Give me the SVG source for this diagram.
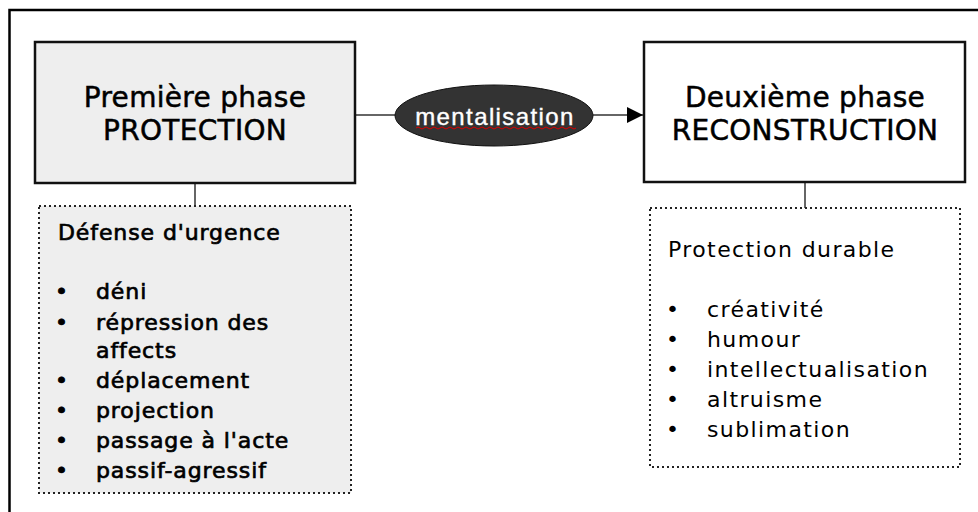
<svg xmlns="http://www.w3.org/2000/svg" width="978" height="512" viewBox="0 0 978 512">
<defs>
<style>
.t{font-family:"DejaVu Sans",Verdana,sans-serif;fill:#000}
.title{font-size:28px;text-anchor:middle;letter-spacing:0.3px;stroke:#000;stroke-width:0.5}
.lst{font-size:22px;letter-spacing:1.4px}
.b{stroke:#000;stroke-width:0.7;letter-spacing:0.9px}
.box{stroke:#111;stroke-width:2.5}
.dot{stroke:#222;stroke-width:2;stroke-dasharray:2 3;}
.ln{stroke:#333;stroke-width:1.5;fill:none}
</style>
<marker id="arr" viewBox="0 0 10 10" refX="10" refY="5" markerWidth="26" markerHeight="16" markerUnits="userSpaceOnUse" orient="auto">
<path d="M0,0 L10,5 L0,10 z" fill="#000"/>
</marker>
</defs>
<rect width="978" height="512" fill="#fff"/>
<path d="M9.5,512 V10 H978" fill="none" stroke="#000" stroke-width="2.5"/>

<g id="connectors">
<line class="ln" x1="355" y1="115" x2="396" y2="115"/>
<line class="ln" x1="593" y1="115" x2="643" y2="115" marker-end="url(#arr)"/>
<line class="ln" x1="195" y1="183" x2="195" y2="206"/>
<line class="ln" x1="805" y1="182" x2="805" y2="208"/>
</g>

<g id="phase1">
<rect class="box" x="35" y="42" width="320" height="141" fill="#eeeeee"/>
<text class="t title" x="195" y="107">Première phase</text>
<text class="t title" x="195" y="140">PROTECTION</text>
</g>

<g id="mentalisation">
<ellipse cx="494" cy="115.5" rx="99" ry="30.5" fill="#333" stroke="#111" stroke-width="1"/>
<path d="M416,128 q2,-2 4,0 t4,0 t4,0 t4,0 t4,0 t4,0 t4,0 t4,0 t4,0 t4,0 t4,0 t4,0 t4,0 t4,0 t4,0 t4,0 t4,0 t4,0 t4,0 t4,0 t4,0 t4,0 t4,0 t4,0 t4,0 t4,0 t4,0 t4,0 t4,0 t4,0 t4,0 t4,0 t4,0 t4,0 t4,0 t4,0 t4,0 t4,0 t4,0 t4,0" fill="none" stroke="#d00" stroke-width="1"/>
<text x="495" y="125" text-anchor="middle" font-family="Liberation Sans, Arial, sans-serif" font-size="24" letter-spacing="1.4" fill="#fff" stroke="#fff" stroke-width="0.4">mentalisation</text>
</g>

<g id="phase2">
<rect class="box" x="644" y="42" width="321" height="140" fill="#fff"/>
<text class="t title" x="805" y="107">Deuxième phase</text>
<text class="t title" x="805" y="140">RECONSTRUCTION</text>
</g>

<g id="defense">
<rect class="dot" x="39" y="206" width="312" height="287" fill="#eeeeee"/>
<text class="t lst b" x="58" y="240">Défense d'urgence</text>
<g class="t lst b">
<text x="55" y="299">•</text><text x="96" y="299">déni</text>
<text x="55" y="330">•</text><text x="96" y="330">répression des</text>
<text x="96" y="358">affects</text>
<text x="55" y="388">•</text><text x="96" y="388">déplacement</text>
<text x="55" y="418">•</text><text x="96" y="418">projection</text>
<text x="55" y="448">•</text><text x="96" y="448">passage à l'acte</text>
<text x="55" y="478">•</text><text x="96" y="478">passif-agressif</text>
</g>
</g>

<g id="protection">
<rect class="dot" x="650" y="208" width="310" height="259" fill="#fff"/>
<text class="t lst" x="668" y="257">Protection durable</text>
<g class="t lst">
<text x="666" y="317">•</text><text x="707" y="317">créativité</text>
<text x="666" y="347">•</text><text x="707" y="347">humour</text>
<text x="666" y="377">•</text><text x="707" y="377">intellectualisation</text>
<text x="666" y="407">•</text><text x="707" y="407">altruisme</text>
<text x="666" y="437">•</text><text x="707" y="437">sublimation</text>
</g>
</g>
</svg>
